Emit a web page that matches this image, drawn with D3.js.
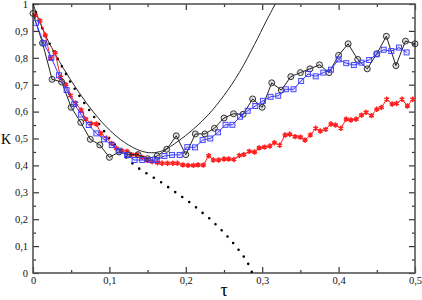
<!DOCTYPE html>
<html>
<head>
<meta charset="utf-8">
<script src="https://cdn.jsdelivr.net/npm/d3@7.9.0/dist/d3.min.js"></script>
<style>
  body { margin: 0; background: #fff; }
  svg { display: block; }
  svg text { font-family: "Liberation Serif", "Times New Roman", serif !important; }
</style>
</head>
<body>
<svg id="chart" width="422" height="300"></svg>
<script>
// circles (black)
const circTau = [0, 0.0125, 0.025, 0.0375, 0.05, 0.0625, 0.075, 0.0875, 0.1, 0.1125,
  0.125, 0.1375, 0.15, 0.1625, 0.175, 0.1875, 0.2, 0.2125, 0.225, 0.2375,
  0.25, 0.2625, 0.275, 0.2875, 0.3, 0.3125, 0.325, 0.3375, 0.35, 0.3625,
  0.375, 0.3875, 0.4, 0.4125, 0.425, 0.4375, 0.45, 0.4625, 0.475, 0.4875, 0.5];
const circK = [0.965, 0.855, 0.72, 0.71, 0.616, 0.56, 0.497, 0.476, 0.43, 0.45,
  0.44, 0.44, 0.425, 0.435, 0.46, 0.51, 0.44, 0.517, 0.517, 0.538,
  0.576, 0.592, 0.59, 0.647, 0.616, 0.707, 0.68, 0.73, 0.745, 0.759,
  0.774, 0.745, 0.809, 0.852, 0.794, 0.759, 0.815, 0.88, 0.771, 0.862, 0.852];

// squares (blue)
const sqTau = [0.004, 0.014, 0.024, 0.034, 0.044, 0.054, 0.063, 0.073, 0.083, 0.093,
  0.103, 0.113, 0.123, 0.133, 0.143, 0.153, 0.162, 0.172, 0.182, 0.192,
  0.202, 0.212, 0.222, 0.232, 0.242, 0.252, 0.261, 0.271, 0.281, 0.291,
  0.301, 0.311, 0.321, 0.331, 0.341, 0.351, 0.36, 0.37, 0.38, 0.39,
  0.40, 0.41, 0.42, 0.43, 0.44, 0.45, 0.459, 0.469, 0.479, 0.489];
const sqK = [0.93, 0.854, 0.80, 0.735, 0.68, 0.628, 0.589, 0.55, 0.519, 0.497,
  0.476, 0.455, 0.438, 0.42, 0.42, 0.42, 0.42, 0.435, 0.439, 0.439,
  0.468, 0.467, 0.494, 0.50, 0.523, 0.551, 0.551, 0.581, 0.603, 0.621,
  0.64, 0.655, 0.659, 0.683, 0.683, 0.714, 0.74, 0.731, 0.745, 0.756,
  0.794, 0.78, 0.773, 0.782, 0.792, 0.813, 0.83, 0.825, 0.838, 0.82];

// stars (red)
const starTau = [0.003, 0.009, 0.016, 0.023, 0.029, 0.036, 0.043, 0.049, 0.056, 0.063,
  0.069, 0.076, 0.083, 0.089, 0.096, 0.103, 0.109, 0.116, 0.123, 0.129,
  0.136, 0.143, 0.149, 0.156, 0.163, 0.169, 0.176, 0.183, 0.189, 0.196,
  0.203, 0.21, 0.216, 0.223, 0.23, 0.236, 0.243, 0.25, 0.256, 0.263,
  0.27, 0.276, 0.283, 0.29, 0.296, 0.303, 0.31, 0.316, 0.323, 0.33,
  0.336, 0.343, 0.35, 0.356, 0.363, 0.37, 0.376, 0.383, 0.39, 0.396,
  0.403, 0.41, 0.416, 0.423, 0.43, 0.436, 0.443, 0.45, 0.456, 0.463,
  0.47, 0.476, 0.483, 0.49, 0.497];
const starK = [0.959, 0.938, 0.885, 0.798, 0.819, 0.727, 0.70, 0.66, 0.631, 0.606,
  0.572, 0.556, 0.554, 0.519, 0.501, 0.482, 0.464, 0.455, 0.452, 0.44,
  0.44, 0.43, 0.42, 0.414, 0.41, 0.408, 0.408, 0.408, 0.408, 0.402,
  0.40, 0.40, 0.402, 0.401, 0.436, 0.42, 0.42, 0.424, 0.424, 0.422,
  0.437, 0.44, 0.452, 0.45, 0.465, 0.468, 0.472, 0.484, 0.475, 0.513,
  0.516, 0.507, 0.505, 0.494, 0.513, 0.538, 0.528, 0.534, 0.554, 0.55,
  0.538, 0.572, 0.569, 0.572, 0.587, 0.597, 0.585, 0.609, 0.615, 0.646,
  0.628, 0.63, 0.646, 0.621, 0.646];

// thin solid curve
const solidTau = [0, 0.01, 0.02, 0.04, 0.06, 0.08, 0.10, 0.12, 0.14, 0.155,
  0.17, 0.19, 0.21, 0.23, 0.25, 0.27, 0.29, 0.305, 0.317, 0.325];
const solidK = [1, 0.925, 0.862, 0.76, 0.672, 0.595, 0.532, 0.485, 0.455, 0.447,
  0.455, 0.49, 0.535, 0.59, 0.66, 0.745, 0.85, 0.935, 1.0, 1.05];

// dotted curve
const dotTau = [0, 0.01, 0.02, 0.03, 0.04, 0.05, 0.06, 0.07, 0.08, 0.09,
  0.10, 0.11, 0.12, 0.13, 0.14, 0.15, 0.16, 0.17, 0.18, 0.19,
  0.20, 0.21, 0.22, 0.23, 0.24, 0.25, 0.26, 0.27, 0.28, 0.287];
const dotK = [1, 0.925, 0.862, 0.808, 0.757, 0.705, 0.662, 0.62, 0.58, 0.54,
  0.50, 0.468, 0.436, 0.408, 0.386, 0.368, 0.351, 0.333, 0.313, 0.293,
  0.273, 0.252, 0.228, 0.205, 0.178, 0.15, 0.118, 0.083, 0.043, 0];

const xMajor = [0, 0.1, 0.2, 0.3, 0.4, 0.5];
const xMinor = [0.05, 0.15, 0.25, 0.35, 0.45];
const yMajor = [0, 0.1, 0.2, 0.3, 0.4, 0.5, 0.6, 0.7, 0.8, 0.9, 1];
const yMinor = [0.05, 0.15, 0.25, 0.35, 0.45, 0.55, 0.65, 0.75, 0.85, 0.95];

const svg = d3.select('#chart');
const area = { left: 33, right: 415, top: 4, bottom: 273 };

const x = d3.scaleLinear().domain([0, 0.5]).range([area.left, area.right]);
const y = d3.scaleLinear().domain([0, 1]).range([area.bottom, area.top]);

const fmt = d => (d === 0 || d === 1) ? String(d) : d3.format('.1f')(d).replace('.', ',');
const zip = (a, b) => a.map((t, i) => [t, b[i]]);

svg.append('defs').append('clipPath').attr('id', 'plot')
  .append('rect')
  .attr('x', area.left).attr('y', area.top)
  .attr('width', area.right - area.left).attr('height', area.bottom - area.top);

// axes (ticks inward on all four sides)
function axisGroup(axis, tf) {
  const g = svg.append('g').attr('transform', tf).call(axis);
  g.select('.domain').remove();
  g.selectAll('.tick line').attr('stroke', '#333').attr('stroke-width', 1.2);
  g.selectAll('text').attr('font-size', 10.5).attr('fill', '#111');
  return g;
}
axisGroup(d3.axisBottom(x).tickValues(xMajor).tickSize(-6).tickPadding(4).tickFormat(fmt), `translate(0,${area.bottom})`);
axisGroup(d3.axisBottom(x).tickValues(xMinor).tickSize(-3).tickFormat(''), `translate(0,${area.bottom})`);
axisGroup(d3.axisTop(x).tickValues(xMajor).tickSize(-6).tickFormat(''), `translate(0,${area.top})`);
axisGroup(d3.axisTop(x).tickValues(xMinor).tickSize(-3).tickFormat(''), `translate(0,${area.top})`);
axisGroup(d3.axisLeft(y).tickValues(yMajor).tickSize(-6).tickPadding(5).tickFormat(fmt), `translate(${area.left},0)`);
axisGroup(d3.axisLeft(y).tickValues(yMinor).tickSize(-3).tickFormat(''), `translate(${area.left},0)`);
axisGroup(d3.axisRight(y).tickValues(yMajor).tickSize(-6).tickFormat(''), `translate(${area.right},0)`);
axisGroup(d3.axisRight(y).tickValues(yMinor).tickSize(-3).tickFormat(''), `translate(${area.right},0)`);

svg.append('rect')
  .attr('x', area.left).attr('y', area.top)
  .attr('width', area.right - area.left).attr('height', area.bottom - area.top)
  .attr('fill', 'none').attr('stroke', '#555').attr('stroke-width', 1.6);

const line = d3.line().x(d => x(d[0])).y(d => y(d[1]));
const smooth = d3.line().x(d => x(d[0])).y(d => y(d[1])).curve(d3.curveCatmullRom);

const plot = svg.append('g').attr('clip-path', 'url(#plot)');

// dotted curve
plot.append('path').datum(zip(dotTau, dotK))
  .attr('d', smooth).attr('fill', 'none')
  .attr('stroke', '#000').attr('stroke-width', 2.6)
  .attr('stroke-linecap', 'round').attr('stroke-dasharray', '0 8.6');

// thin solid curve
plot.append('path').datum(zip(solidTau, solidK))
  .attr('d', smooth).attr('fill', 'none')
  .attr('stroke', '#111').attr('stroke-width', 0.9);

// red stars
const red = svg.append('g');
red.append('path').datum(zip(starTau, starK))
  .attr('d', line).attr('fill', 'none').attr('stroke', '#ff1a1a').attr('stroke-width', 1);
red.selectAll('path.sym').data(zip(starTau, starK)).join('path')
  .attr('class', 'sym')
  .attr('transform', d => `translate(${x(d[0])},${y(d[1])})`)
  .attr('d', d3.symbol(d3.symbolAsterisk, 20))
  .attr('fill', 'none').attr('stroke', '#ff2020').attr('stroke-width', 1.6);

// black circles
const blk = svg.append('g');
blk.append('path').datum(zip(circTau, circK))
  .attr('d', line).attr('fill', 'none').attr('stroke', '#222').attr('stroke-width', 1);
blk.selectAll('circle').data(zip(circTau, circK)).join('circle')
  .attr('cx', d => x(d[0])).attr('cy', d => y(d[1])).attr('r', 3)
  .attr('fill', 'rgba(0,0,0,0.12)').attr('stroke', '#333').attr('stroke-width', 1);

// blue squares
const blu = svg.append('g');
blu.append('path').datum(zip(sqTau, sqK))
  .attr('d', line).attr('fill', 'none').attr('stroke', '#3a3aff').attr('stroke-width', 1);
blu.selectAll('rect').data(zip(sqTau, sqK)).join('rect')
  .attr('x', d => x(d[0]) - 2.5).attr('y', d => y(d[1]) - 2.5)
  .attr('width', 5).attr('height', 5)
  .attr('fill', 'rgba(60,60,255,0.12)').attr('stroke', '#3a3aff').attr('stroke-width', 0.9);

// axis labels
svg.append('text').attr('x', 6).attr('y', 144).attr('text-anchor', 'middle')
  .attr('font-size', 14).text('K');
svg.append('text').attr('x', 224).attr('y', 296).attr('text-anchor', 'middle')
  .attr('font-size', 18).text('τ');
</script>
</body>
</html>
